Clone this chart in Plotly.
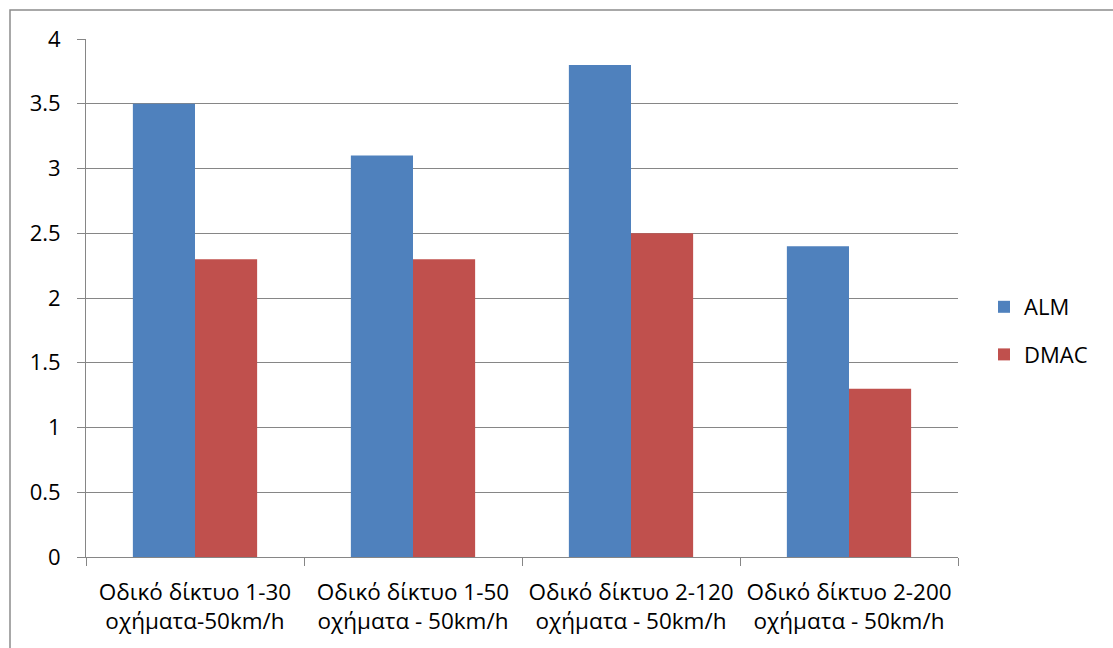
import plotly.graph_objects as go

categories = ["Οδικό δίκτυο 1-30<br>οχήματα-50km/h",
              "Οδικό δίκτυο 1-50<br>οχήματα - 50km/h",
              "Οδικό δίκτυο 2-120<br>οχήματα - 50km/h",
              "Οδικό δίκτυο 2-200<br>οχήματα - 50km/h"]
alm = [3.5, 3.1, 3.8, 2.4]
dmac = [2.3, 2.3, 2.5, 1.3]

W, H = 1113, 648
L, R, T, B = 86, 958, 39, 557
pw, ph = R - L, B - T

def px(x):
    return (x - L) / pw

def py(y):
    return (B - y) / ph

font = "Open Sans, Lato, sans-serif"
grid = "#868686"

fig = go.Figure()
fig.add_trace(go.Bar(x=categories, y=alm, name="ALM", marker_color="#4F81BD",
                     marker_line_width=0, legendgroup="a"))
fig.add_trace(go.Bar(x=categories, y=dmac, name="DMAC", marker_color="#C0504D",
                     marker_line_width=0, legendgroup="b"))

fig.update_layout(
    width=W, height=H,
    margin=dict(l=L, r=W - R, t=T, b=H - B, autoexpand=False),
    paper_bgcolor="white", plot_bgcolor="white",
    barmode="group", bargap=0.43, bargroupgap=0,
    font=dict(family=font, size=22, color="#000000"),
    legend=dict(x=px(984), y=py(331), xanchor="left", yanchor="middle",
                font=dict(size=22), tracegroupgap=16, traceorder="grouped",
                itemwidth=30),
    showlegend=True,
)
fig.update_yaxes(range=[0, 4], dtick=0.5, tick0=0, showgrid=True, gridcolor=grid,
                 gridwidth=1, showline=True, linecolor=grid, linewidth=1,
                 ticks="outside", ticklen=8, tickcolor=grid, zeroline=False,
                 tickfont=dict(size=22), ticklabelstandoff=12, automargin=False)
fig.update_xaxes(showline=True, linecolor=grid, linewidth=1, ticks="outside",
                 ticklen=8, tickcolor=grid, tickson="boundaries", tickangle=0,
                 tickfont=dict(size=22.5), showgrid=False, ticklabelstandoff=15,
                 automargin=False)

fig.add_shape(type="rect", xref="paper", yref="paper",
              x0=px(10), x1=px(1125), y0=py(660), y1=py(10),
              line=dict(color="#8C8C8C", width=1.5), layer="below")

fig.write_html("out.html")
